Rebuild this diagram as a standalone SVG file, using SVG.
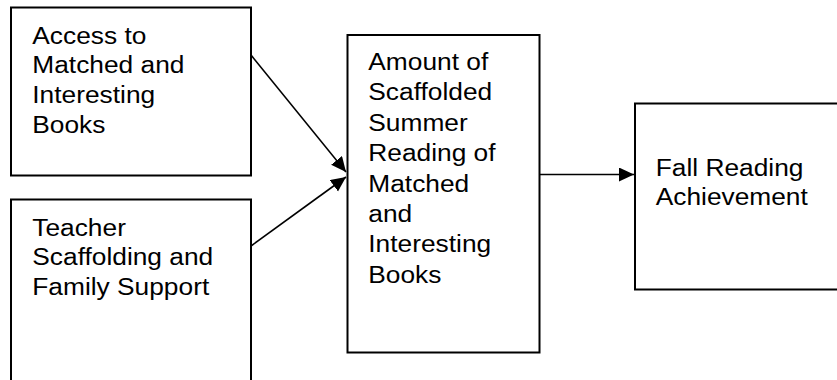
<svg xmlns="http://www.w3.org/2000/svg" width="837" height="380" viewBox="0 0 837 380">
  <style>
    .box { fill: #ffffff; stroke: #000000; stroke-width: 2; }
    .t { font-family: "Liberation Sans", Arial, sans-serif; font-size: 23.5px; fill: #000000; }
    .conn { stroke: #000000; stroke-width: 1.6; fill: none; }
  </style>
  <defs>
    <marker id="arrow" markerUnits="userSpaceOnUse" markerWidth="16" markerHeight="16" refX="15" refY="7" orient="auto">
      <path d="M0,0 L15,7 L0,14 Z" fill="#000000"/>
    </marker>
  </defs>
  <rect x="0" y="0" width="837" height="380" fill="#ffffff"/>

  <g id="node-access">
    <rect class="box" x="11" y="7.5" width="240" height="168"/>
    <text class="t" transform="translate(32.3,43.5) scale(1.12,1)">
      <tspan x="0" y="0">Access to</tspan>
      <tspan x="0" y="30">Matched and</tspan>
      <tspan x="0" y="60">Interesting</tspan>
      <tspan x="0" y="90">Books</tspan>
    </text>
  </g>

  <g id="node-teacher">
    <rect class="box" x="11" y="199.5" width="240" height="200"/>
    <text class="t" transform="translate(32.3,235.5) scale(1.12,1)">
      <tspan x="0" y="0">Teacher</tspan>
      <tspan x="0" y="30">Scaffolding and</tspan>
      <tspan x="0" y="60">Family Support</tspan>
    </text>
  </g>

  <g id="node-amount">
    <rect class="box" x="347.5" y="35" width="192" height="317.5"/>
    <text class="t" transform="translate(368.3,70) scale(1.12,1)">
      <tspan x="0" y="0">Amount of</tspan>
      <tspan x="0" y="30.4">Scaffolded</tspan>
      <tspan x="0" y="60.8">Summer</tspan>
      <tspan x="0" y="91.2">Reading of</tspan>
      <tspan x="0" y="121.6">Matched</tspan>
      <tspan x="0" y="152">and</tspan>
      <tspan x="0" y="182.4">Interesting</tspan>
      <tspan x="0" y="212.8">Books</tspan>
    </text>
  </g>

  <g id="node-fall">
    <rect class="box" x="635" y="103.5" width="220" height="186"/>
    <text class="t" transform="translate(655.7,176) scale(1.12,1)">
      <tspan x="0" y="0">Fall Reading</tspan>
      <tspan x="0" y="29.5">Achievement</tspan>
    </text>
  </g>

  <g id="connectors">
    <line class="conn" x1="251" y1="55" x2="346" y2="172" marker-end="url(#arrow)"/>
    <line class="conn" x1="251" y1="246" x2="346" y2="177" marker-end="url(#arrow)"/>
    <line class="conn" x1="539.5" y1="174.5" x2="634" y2="174.5" marker-end="url(#arrow)"/>
  </g>
</svg>
